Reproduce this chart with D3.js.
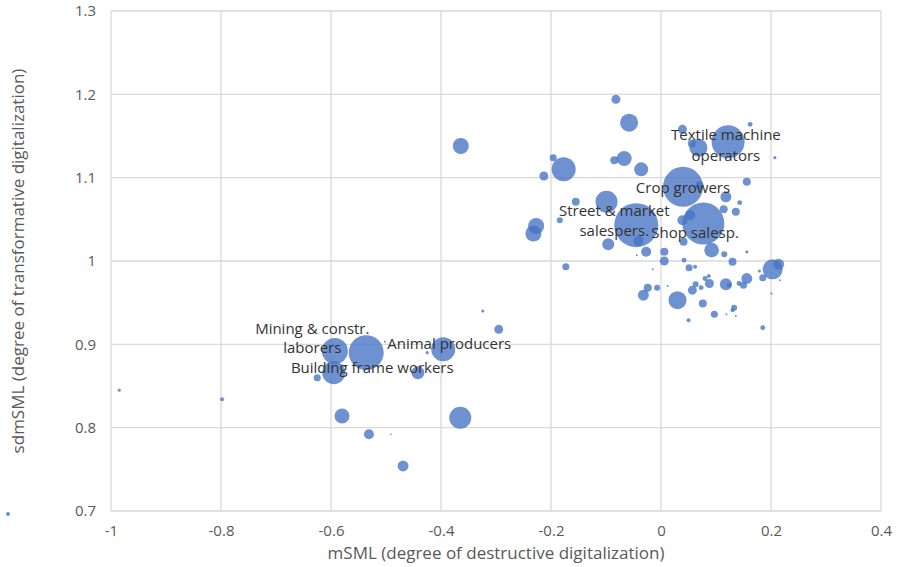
<!DOCTYPE html>
<html>
<head>
<meta charset="utf-8">
<script src="https://cdn.jsdelivr.net/npm/d3@7"></script>
<style>
  body { margin: 0; background: #fff; }
  svg text { font-family: "Open Sans", "DejaVu Sans", sans-serif; }
</style>
</head>
<body>
<div id="chart"></div>
<script>
// mSML (x), sdmSML (y), employment size (bubble area)
const mSML = [
  -0.985, -0.798, -0.593, -0.536, -0.396, -0.595, -0.625, -0.442, -0.580, -0.365,
  -0.531, -0.491, -0.469, -0.324, -0.295, -0.425, -0.502, -0.364, -0.196, -0.177,
  -0.213, -0.155, -0.227, -0.232, -0.184, -0.173, -0.082, -0.058, -0.067, -0.085,
  -0.036, -0.099, -0.045, -0.041, -0.027, -0.096, 0.006, 0.006, -0.015, -0.044,
  0.039, 0.056, 0.068, 0.122, 0.162, 0.207, 0.156, 0.040, 0.070, 0.077,
  0.053, 0.039, 0.041, 0.092, 0.114, 0.136, 0.143, 0.118, 0.115, 0.130,
  0.156, 0.042, 0.051, 0.062, 0.203, 0.214, 0.185, 0.179, 0.216, -0.024,
  -0.032, -0.007, 0.012, 0.030, 0.057, 0.063, 0.073, 0.080, 0.087, 0.088,
  0.076, 0.050, 0.097, 0.118, 0.124, 0.119, 0.133, 0.130, 0.136, 0.142,
  0.150, 0.156, 0.185, 0.201
];
const sdmSML = [
  0.845, 0.834, 0.892, 0.890, 0.894, 0.866, 0.860, 0.866, 0.814, 0.812,
  0.792, 0.792, 0.754, 0.940, 0.918, 0.890, 0.903, 1.138, 1.124, 1.110,
  1.102, 1.071, 1.042, 1.033, 1.049, 0.993, 1.194, 1.166, 1.123, 1.121,
  1.110, 1.071, 1.043, 1.024, 1.011, 1.020, 1.011, 1.000, 0.990, 1.007,
  1.158, 1.141, 1.136, 1.143, 1.164, 1.124, 1.095, 1.089, 1.091, 1.045,
  1.055, 1.049, 1.023, 1.013, 1.062, 1.059, 1.070, 1.077, 1.008, 0.999,
  1.011, 1.001, 0.992, 0.993, 0.990, 0.996, 0.980, 0.988, 0.977, 0.968,
  0.959, 0.968, 0.970, 0.953, 0.965, 0.972, 0.968, 0.979, 0.982, 0.973,
  0.949, 0.929, 0.936, 0.972, 0.971, 0.936, 0.944, 0.941, 0.934, 0.973,
  0.971, 0.979, 0.920, 0.961
];
const employment = [
  5, 8, 338, 613, 288, 265, 25, 85, 113, 242,
  50, 1, 60, 5, 40, 5, 2, 128, 25, 288,
  40, 32, 128, 128, 18, 25, 40, 162, 113, 32,
  98, 242, 968, 50, 50, 72, 32, 40, 2, 2,
  40, 32, 162, 545, 12, 5, 32, 800, 32, 882,
  50, 50, 32, 107, 32, 32, 12, 60, 18, 32,
  5, 12, 25, 8, 200, 60, 25, 5, 2, 32,
  60, 18, 2, 162, 40, 18, 12, 12, 8, 40,
  32, 8, 25, 72, 12, 2, 18, 8, 2, 12,
  25, 60, 12, 2
];

// occupation label lines, anchored in data units (centre, baseline)
const labelText = [
  "Textile machine", "operators", "Crop growers", "Street & market", "salespers.",
  "Shop salesp.", "Mining & constr.", "laborers", "Building frame workers", "Animal producers"
];
const labelX = [0.118, 0.118, 0.040, -0.085, -0.085, 0.062, -0.634, -0.634, -0.525, -0.385];
const labelY = [1.145, 1.120, 1.082, 1.054, 1.030, 1.028, 0.913, 0.890, 0.866, 0.894];

const xTicks = [-1, -0.8, -0.6, -0.4, -0.2, 0, 0.2, 0.4];
const yTicks = [0.7, 0.8, 0.9, 1, 1.1, 1.2, 1.3];

const W = 899, H = 567;
const margin = { top: 11, right: 18, bottom: 56, left: 111 };
const width = W - margin.left - margin.right;
const height = H - margin.top - margin.bottom;

const svg = d3.select('#chart').append('svg')
  .attr('width', W)
  .attr('height', H);

const g = svg.append('g')
  .attr('transform', `translate(${margin.left},${margin.top})`);

const xScale = d3.scaleLinear().domain([-1, 0.4]).range([0, width]);
const yScale = d3.scaleLinear().domain([0.7, 1.3]).range([height, 0]);
const rScale = d3.scaleSqrt().domain([0, 1250]).range([0, 25]);

const gridColor = '#d9d9d9';
const tickColor = '#595959';

// gridlines
g.selectAll('.vgrid')
  .data(xTicks)
  .enter()
  .append('line')
  .attr('class', 'vgrid')
  .attr('x1', d => xScale(d)).attr('x2', d => xScale(d))
  .attr('y1', 0).attr('y2', height)
  .attr('stroke', gridColor)
  .attr('stroke-width', 1.3);

g.selectAll('.hgrid')
  .data(yTicks)
  .enter()
  .append('line')
  .attr('class', 'hgrid')
  .attr('x1', 0).attr('x2', width)
  .attr('y1', d => yScale(d)).attr('y2', d => yScale(d))
  .attr('stroke', gridColor)
  .attr('stroke-width', 1.3);

// axes (labels only, the lines are the gridlines); plain hyphen for negatives
const xAxis = d3.axisBottom(xScale)
  .tickValues(xTicks)
  .tickSize(0)
  .tickPadding(14)
  .tickFormat(d => String(d));

const yAxis = d3.axisLeft(yScale)
  .tickValues(yTicks)
  .tickSize(0)
  .tickPadding(15)
  .tickFormat(d => String(d));

g.append('g')
  .attr('class', 'x-axis')
  .attr('transform', `translate(0,${height})`)
  .call(xAxis);

g.append('g')
  .attr('class', 'y-axis')
  .call(yAxis);

g.selectAll('.x-axis .domain, .y-axis .domain').remove();
g.selectAll('.x-axis text, .y-axis text')
  .attr('fill', tickColor)
  .style('font-size', '15px')
  .style('font-family', '"Open Sans", sans-serif');

// bubbles, biggest first so small ones stay visible
const points = mSML.map((x, i) => ({ x, y: sdmSML[i], size: employment[i] }));
points.sort((a, b) => b.size - a.size);

g.selectAll('.dot')
  .data(points)
  .enter()
  .append('circle')
  .attr('class', 'dot')
  .attr('cx', d => xScale(d.x))
  .attr('cy', d => yScale(d.y))
  .attr('r', d => Math.max(rScale(d.size), 0.8))
  .attr('fill', '#4472C4')
  .attr('fill-opacity', 0.78);

// occupation labels
g.selectAll('.occ-label')
  .data(labelText)
  .enter()
  .append('text')
  .attr('class', 'occ-label')
  .attr('x', (d, i) => xScale(labelX[i]))
  .attr('y', (d, i) => yScale(labelY[i]))
  .attr('text-anchor', 'middle')
  .attr('fill', '#333333')
  .style('font-size', '15px')
  .text(d => d);

// axis titles
svg.append('text')
  .attr('x', margin.left + width / 2)
  .attr('y', 559)
  .attr('text-anchor', 'middle')
  .attr('fill', tickColor)
  .style('font-size', '17px')
  .text('mSML (degree of destructive digitalization)');

svg.append('text')
  .attr('transform', `translate(24,${margin.top + height / 2}) rotate(-90)`)
  .attr('text-anchor', 'middle')
  .attr('fill', tickColor)
  .style('font-size', '17px')
  .text('sdmSML (degree of transformative digitalization)');

// legend marker
svg.append('circle')
  .attr('cx', 8)
  .attr('cy', 514)
  .attr('r', 2)
  .attr('fill', '#4472C4')
  .attr('fill-opacity', 0.78);
</script>
</body>
</html>
